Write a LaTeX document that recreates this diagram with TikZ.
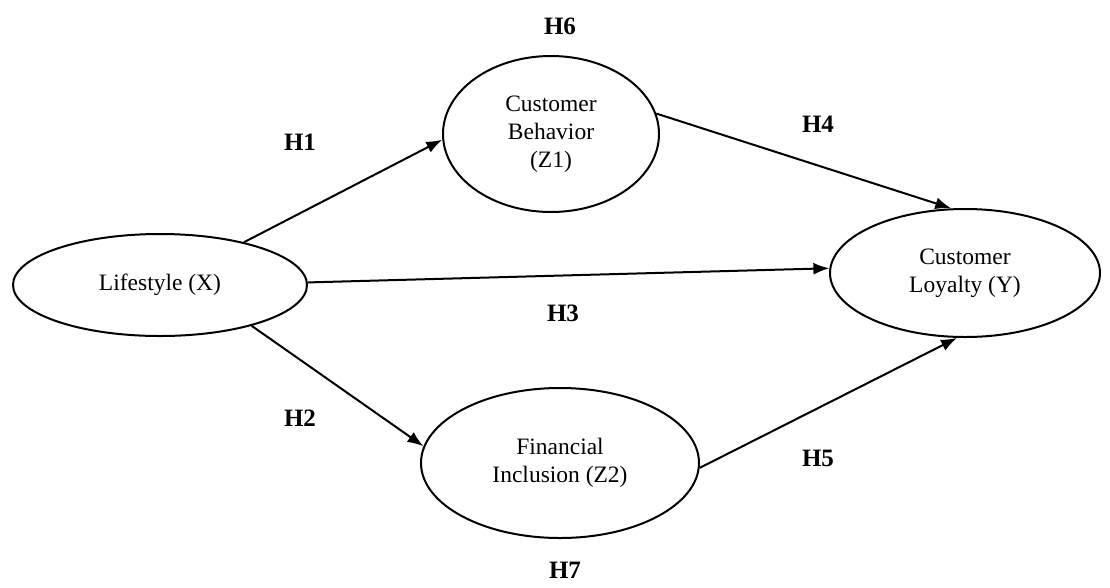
\documentclass[tikz,border=0pt]{standalone}
\usepackage{fontspec}
\setmainfont{Liberation Serif}
\usetikzlibrary{shapes.geometric,arrows.meta}
\begin{document}
\begin{tikzpicture}[x=1pt,y=-1pt,
  var/.style={ellipse,draw,line width=2pt,inner sep=0pt,align=center,
    font=\fontsize{23.5}{28}\selectfont},
  hyp/.style={font=\fontsize{25}{28}\selectfont\bfseries},
  conn/.style={line width=2pt,-{Latex[length=16pt,width=12pt]}}]
\useasboundingbox (0,0) rectangle (1110,587);
\node[var,minimum width=294pt,minimum height=102pt] (X) at (160,285) {Lifestyle (X)};
\node[var,minimum width=216pt,minimum height=156pt] (Z1) at (551,134) {Customer\\Behavior\\(Z1)};
\node[var,minimum width=270pt,minimum height=128pt] (Y) at (965,273) {Customer\\Loyalty (Y)};
\node[var,minimum width=278pt,minimum height=150pt] (Z2) at (560,463) {Financial\\Inclusion (Z2)};
\draw[conn] (X.27.7) -- (Z1.-177);
\draw[conn] (X.1.5) -- (Y.178.7);
\draw[conn] (X.-24.9) -- (Z2.173.8);
\draw[conn] (Z1.11.4) -- (Y.102);
\draw[conn] (Z2.-2) -- (Y.-97.5);
\node[hyp] (h6) at (560,26) {H6};
\node[hyp] (h1) at (300,142) {H1};
\node[hyp] (h4) at (818,124) {H4};
\node[hyp] (h3) at (563,313) {H3};
\node[hyp] (h2) at (300,418) {H2};
\node[hyp] (h5) at (818,458) {H5};
\node[hyp] (h7) at (565,570) {H7};
\end{tikzpicture}
\end{document}
